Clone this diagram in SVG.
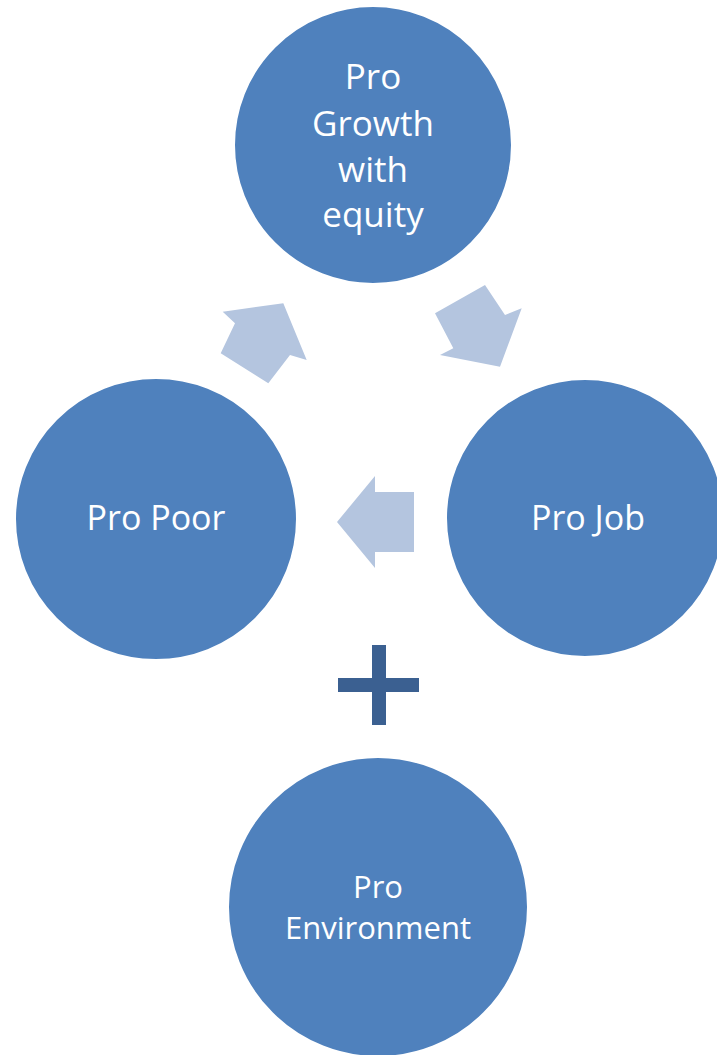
<svg xmlns="http://www.w3.org/2000/svg" width="717" height="1055" viewBox="0 0 717 1055">
<style>
.node{fill:#4F81BD;stroke:#FFFFFF;stroke-width:2}
.lbl{font-family:"Open Sans","Liberation Sans",sans-serif;fill:#FFFFFF;text-anchor:middle}
.arrow{fill:#B4C5DF}
.plus{fill:#3B6091}
</style>
<rect width="717" height="1055" fill="#FFFFFF"/>
<g id="connectors">
<polygon class="arrow" points="222.7,311.7 283.3,303.3 306.7,360 290,355 268.3,383.3 220.7,353.3 235,323.3"/>
<polygon class="arrow" points="435,313.3 485,285 505,315 521.7,308.3 500,366.7 440,355 453.3,348.3"/>
<polygon class="arrow" points="414,492 375,492 375,476 337,522 375,568 375,552 414,552"/>
</g>
<g id="node-growth">
<circle class="node" cx="373" cy="145" r="139"/>
<text class="lbl" font-size="35" x="373" y="89">Pro</text>
<text class="lbl" font-size="35" x="373" y="136">Growth</text>
<text class="lbl" font-size="35" x="373" y="182">with</text>
<text class="lbl" font-size="35" x="373" y="227">equity</text>
</g>
<g id="node-poor">
<circle class="node" cx="156" cy="519" r="141"/>
<text class="lbl" font-size="34" x="156" y="530">Pro Poor</text>
</g>
<g id="node-job">
<circle class="node" cx="585" cy="518" r="139"/>
<text class="lbl" font-size="34" x="588" y="530">Pro Job</text>
</g>
<g id="plus">
<rect class="plus" x="372" y="645" width="14" height="80"/>
<rect class="plus" x="338" y="678" width="81" height="14"/>
</g>
<g id="node-environment">
<circle class="node" cx="378" cy="907" r="150"/>
<text class="lbl" font-size="31" x="378" y="898">Pro</text>
<text class="lbl" font-size="31" x="378" y="939">Environment</text>
</g>
</svg>
